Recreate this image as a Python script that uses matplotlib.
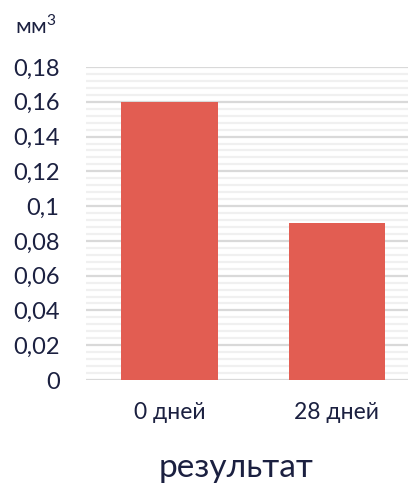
import numpy as np
import matplotlib
matplotlib.use('Agg')
import matplotlib.pyplot as plt
from matplotlib.ticker import MultipleLocator, FuncFormatter

plt.rcParams['font.family'] = ['Lato', 'Noto Sans', 'DejaVu Sans']
plt.rcParams['mathtext.fontset'] = 'custom'
plt.rcParams['mathtext.rm'] = 'Lato'

categories = ['0 дней', '28 дней']
values = [0.16, 0.09]
unit = 'мм$^\\mathrm{3}$'
xlabel = 'результат'

text_col = '#1b2040'
bar_col = '#e25d52'

fig = plt.figure(figsize=(4.08, 4.86), dpi=100)
ax = fig.add_axes([86/408, 106/486, 322/408, 313/486])

x = np.arange(len(categories))
ax.bar(x, values, width=0.575, color=bar_col, zorder=3)

ax.set_xlim(-0.5, 1.428)
ax.set_ylim(0, 0.18)
ax.yaxis.set_major_locator(MultipleLocator(0.02))
ax.yaxis.set_minor_locator(MultipleLocator(0.004))
ax.yaxis.set_major_formatter(FuncFormatter(
    lambda v, p: ('%g' % round(v, 3)).replace('.', ',')))
ax.grid(which='major', axis='y', color='#d9d9d9', lw=1.6, zorder=0)
ax.grid(which='minor', axis='y', color='#f0f0f0', lw=1.6, zorder=0)
ax.set_xticks(x)
ax.set_xticklabels(categories)
for s in ax.spines.values():
    s.set_visible(False)
ax.tick_params(axis='y', which='both', length=0, pad=19, labelsize=17,
               labelcolor=text_col)
ax.tick_params(axis='x', length=0, pad=16, labelsize=16.5, labelcolor=text_col)
for t in ax.get_yticklabels():
    t.set_clip_on(False)

fig.text(236/408, 1 - 477/486, xlabel, ha='center', va='baseline',
         fontsize=24, color=text_col)
fig.text(15/408, 1 - 33/486, unit, ha='left', va='baseline',
         fontsize=16, color=text_col)

fig.savefig('out.png', dpi=100)
